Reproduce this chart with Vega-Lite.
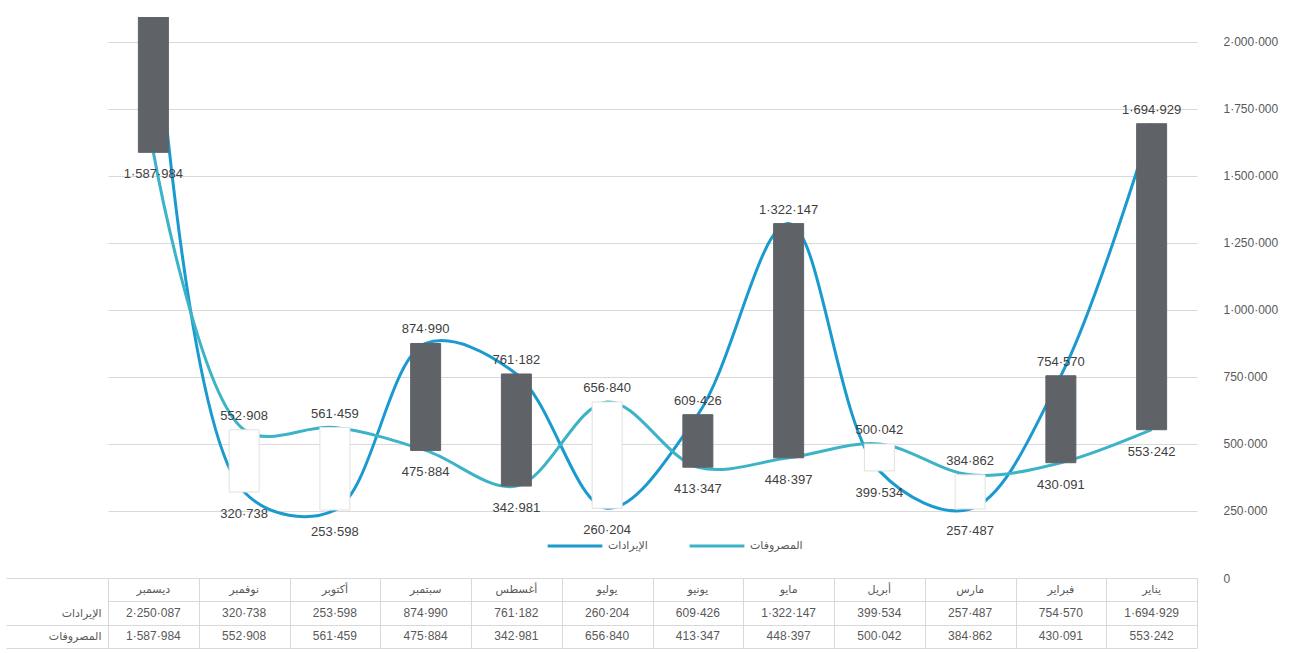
{
  "$schema": "https://vega.github.io/schema/vega-lite/v6.json",
  "padding": {"left": 5, "top": 17, "right": 5, "bottom": 2},
  "background": "white",
  "bounds": "flush",
  "config": {
    "locale": {"number": {"decimal": ".", "thousands": "·", "grouping": [3], "currency": ["", ""]}},
    "font": "Liberation Sans, DejaVu Sans",
    "view": {"stroke": null}
  },
  "data": {"values": [
    {"m": 1, "month": "يناير", "الإيرادات": 1694929, "المصروفات": 553242},
    {"m": 2, "month": "فبراير", "الإيرادات": 754570, "المصروفات": 430091},
    {"m": 3, "month": "مارس", "الإيرادات": 257487, "المصروفات": 384862},
    {"m": 4, "month": "أبريل", "الإيرادات": 399534, "المصروفات": 500042},
    {"m": 5, "month": "مايو", "الإيرادات": 1322147, "المصروفات": 448397},
    {"m": 6, "month": "يونيو", "الإيرادات": 609426, "المصروفات": 413347},
    {"m": 7, "month": "يوليو", "الإيرادات": 260204, "المصروفات": 656840},
    {"m": 8, "month": "أغسطس", "الإيرادات": 761182, "المصروفات": 342981},
    {"m": 9, "month": "سبتمبر", "الإيرادات": 874990, "المصروفات": 475884},
    {"m": 10, "month": "أكتوبر", "الإيرادات": 253598, "المصروفات": 561459},
    {"m": 11, "month": "نوفمبر", "الإيرادات": 320738, "المصروفات": 552908},
    {"m": 12, "month": "ديسمبر", "الإيرادات": 2250087, "المصروفات": 1587984}
  ]},
  "spacing": 0,
  "vconcat": [
    {
      "width": 1089,
      "height": 561,
      "encoding": {
        "x": {"field": "month", "type": "nominal", "axis": null,
          "scale": {"type": "band", "paddingInner": 0, "paddingOuter": 0,
            "domain": ["ديسمبر", "نوفمبر", "أكتوبر", "سبتمبر", "أغسطس", "يوليو", "يونيو", "مايو", "أبريل", "مارس", "فبراير", "يناير"]}}
      },
      "layer": [
        {
          "transform": [{"fold": ["الإيرادات", "المصروفات"], "as": ["series", "value"]}],
          "mark": {"type": "line", "interpolate": "catmull-rom", "strokeWidth": 3, "clip": true},
          "encoding": {
            "y": {"field": "value", "type": "quantitative", "title": null,
              "scale": {"domain": [0, 2093000], "nice": false, "zero": true},
              "axis": {"orient": "right", "values": [0, 250000, 500000, 750000, 1000000, 1250000, 1500000, 1750000, 2000000],
                "format": ",d", "grid": true, "gridColor": "#d9d9d9", "domain": false, "ticks": false,
                "labelPadding": 26, "labelAlign": "left", "labelColor": "#595959", "labelFontSize": 12, "title": null}},
            "color": {"field": "series", "type": "nominal",
              "scale": {"domain": ["الإيرادات", "المصروفات"], "range": ["#1b9ad0", "#3db3c8"]},
              "legend": {"orient": "none", "legendX": 438, "legendY": 500, "padding": 0, "direction": "horizontal", "title": null,
                "symbolType": "stroke", "symbolSize": 3000, "symbolStrokeWidth": 3, "labelFontSize": 11,
                "labelColor": "#595959", "labelFont": "DejaVu Sans", "columnPadding": 35}},
            "order": {"field": "m", "sort": "descending"}
          }
        },
        {
          "mark": {"type": "bar", "size": 30, "clip": true, "strokeWidth": 1},
          "encoding": {
            "y": {"field": "الإيرادات", "type": "quantitative", "title": null},
            "y2": {"field": "المصروفات"},
            "fill": {"condition": {"test": "datum['الإيرادات'] > datum['المصروفات']", "value": "#5f6368"}, "value": "#ffffff"},
            "stroke": {"condition": {"test": "datum['الإيرادات'] > datum['المصروفات']", "value": "#5f6368"}, "value": "#e0e0e0"}
          }
        },
        {
          "transform": [
            {"fold": ["الإيرادات", "المصروفات"], "as": ["series", "value"]},
            {"joinaggregate": [{"op": "max", "field": "value", "as": "hi"}], "groupby": ["month"]},
            {"filter": "datum.value === datum.hi && datum.value < 2000000"}
          ],
          "mark": {"type": "text", "dy": -14, "fontSize": 13, "color": "#404040", "clip": true},
          "encoding": {
            "y": {"field": "value", "type": "quantitative", "title": null},
            "text": {"field": "value", "type": "quantitative", "format": ",d"}
          }
        },
        {
          "transform": [
            {"fold": ["الإيرادات", "المصروفات"], "as": ["series", "value"]},
            {"joinaggregate": [{"op": "max", "field": "value", "as": "hi"}], "groupby": ["month"]},
            {"filter": "datum.value < datum.hi"}
          ],
          "mark": {"type": "text", "dy": 22, "fontSize": 13, "color": "#404040", "clip": true},
          "encoding": {
            "y": {"field": "value", "type": "quantitative", "title": null},
            "text": {"field": "value", "type": "quantitative", "format": ",d"}
          }
        }
      ]
    },
    {
      "width": 1089,
      "height": 70,
      "encoding": {
        "x": {"field": "month", "type": "nominal",
          "scale": {"type": "band", "paddingInner": 0, "paddingOuter": 0,
            "domain": ["ديسمبر", "نوفمبر", "أكتوبر", "سبتمبر", "أغسطس", "يوليو", "يونيو", "مايو", "أبريل", "مارس", "فبراير", "يناير"]},
          "axis": {"grid": true, "tickBand": "extent", "gridColor": "#d9d9d9", "labels": false, "ticks": false, "domain": false, "title": null}}
      },
      "layer": [
        {
          "mark": {"type": "text", "fontSize": 11, "color": "#595959", "font": "DejaVu Sans"},
          "encoding": {
            "y": {"datum": "h", "type": "nominal",
              "scale": {"type": "band", "domain": ["h", "r", "e"], "paddingInner": 0, "paddingOuter": 0},
              "axis": {"orient": "left", "title": null, "grid": true, "gridColor": "#d9d9d9", "tickBand": "extent",
                "ticks": true, "tickSize": 102, "tickColor": "#d9d9d9",
                "tickOpacity": {"condition": {"test": "datum.value === 'h'", "value": 0}, "value": 1},
                "domain": true, "domainColor": "#d9d9d9",
                "labelExpr": "datum.value === 'r' ? 'الإيرادات' : datum.value === 'e' ? 'المصروفات' : ''",
                "labelPadding": -95, "labelFontSize": 11, "labelColor": "#595959", "labelFont": "DejaVu Sans"}},
            "text": {"field": "month", "type": "nominal"}
          }
        },
        {
          "mark": {"type": "text", "fontSize": 12, "color": "#595959"},
          "encoding": {
            "y": {"datum": "r", "type": "nominal"},
            "text": {"field": "الإيرادات", "type": "quantitative", "format": ",d"}
          }
        },
        {
          "mark": {"type": "text", "fontSize": 12, "color": "#595959"},
          "encoding": {
            "y": {"datum": "e", "type": "nominal"},
            "text": {"field": "المصروفات", "type": "quantitative", "format": ",d"}
          }
        }
      ]
    }
  ]
}
